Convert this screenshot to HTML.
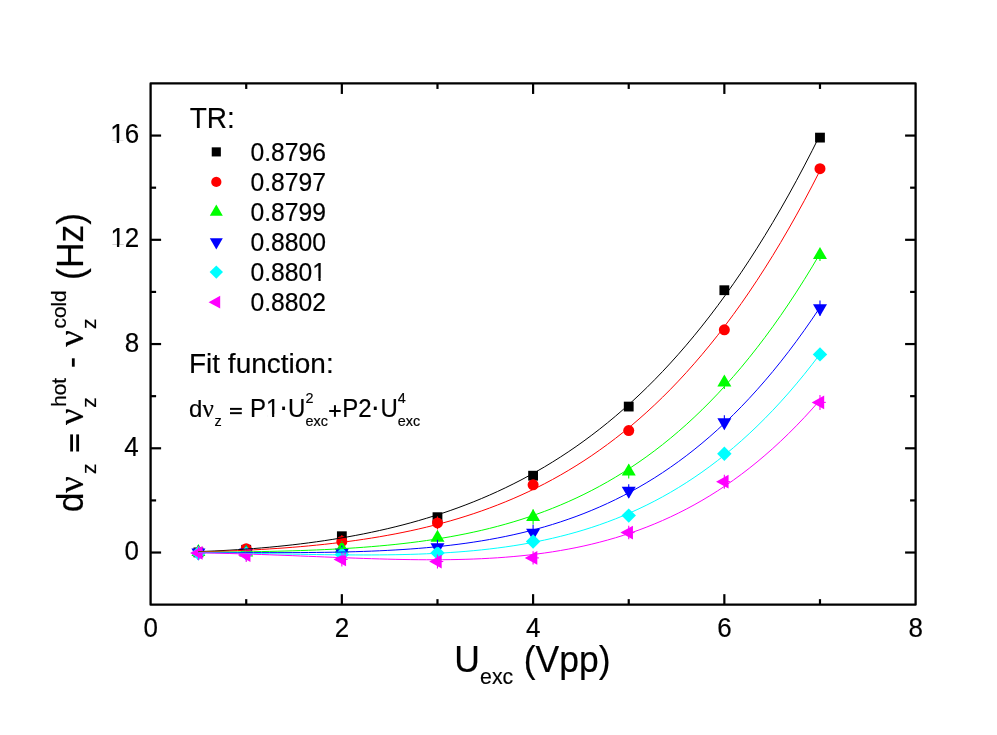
<!DOCTYPE html>
<html><head><meta charset="utf-8"><title>chart</title>
<style>
html,body{margin:0;padding:0;background:#fff;}
body{width:997px;height:735px;overflow:hidden;}
svg{display:block;will-change:transform;}
text{fill:#000;stroke:#000;stroke-width:0.18px;}
</style></head><body>
<svg width="997" height="735" viewBox="0 0 997 735">
<rect width="997" height="735" fill="#fff"/>

<g id="markers">
<rect x="193.51" y="547.50" width="9.80" height="9.80" fill="#000000"/>
<rect x="241.32" y="544.89" width="9.80" height="9.80" fill="#000000"/>
<rect x="336.95" y="531.33" width="9.80" height="9.80" fill="#000000"/>
<rect x="432.58" y="512.28" width="9.80" height="9.80" fill="#000000"/>
<rect x="528.20" y="470.80" width="9.80" height="9.80" fill="#000000"/>
<rect x="623.83" y="401.67" width="9.80" height="9.80" fill="#000000"/>
<rect x="719.45" y="285.32" width="9.80" height="9.80" fill="#000000"/>
<rect x="815.08" y="132.71" width="9.80" height="9.80" fill="#000000"/>
<circle cx="198.41" cy="552.40" r="5.50" fill="#ff0000"/>
<circle cx="246.22" cy="548.75" r="5.50" fill="#ff0000"/>
<line x1="341.85" y1="534.94" x2="341.85" y2="547.94" stroke="#ff0000" stroke-width="1.1"/>
<circle cx="341.85" cy="541.44" r="5.50" fill="#ff0000"/>
<line x1="437.48" y1="516.42" x2="437.48" y2="529.42" stroke="#ff0000" stroke-width="1.1"/>
<circle cx="437.48" cy="522.92" r="5.50" fill="#ff0000"/>
<circle cx="533.10" cy="484.83" r="5.50" fill="#ff0000"/>
<circle cx="628.73" cy="430.57" r="5.50" fill="#ff0000"/>
<circle cx="724.35" cy="329.87" r="5.50" fill="#ff0000"/>
<circle cx="819.98" cy="168.65" r="5.50" fill="#ff0000"/>
<line x1="198.41" y1="544.88" x2="198.41" y2="558.88" stroke="#00ff00" stroke-width="1.1"/>
<polygon points="198.41,543.88 191.41,555.88 205.41,555.88" fill="#00ff00"/>
<line x1="246.22" y1="545.40" x2="246.22" y2="559.40" stroke="#00ff00" stroke-width="1.1"/>
<polygon points="246.22,544.40 239.22,556.40 253.22,556.40" fill="#00ff00"/>
<line x1="341.85" y1="541.49" x2="341.85" y2="555.49" stroke="#00ff00" stroke-width="1.1"/>
<polygon points="341.85,540.49 334.85,552.49 348.85,552.49" fill="#00ff00"/>
<line x1="437.48" y1="530.79" x2="437.48" y2="544.79" stroke="#00ff00" stroke-width="1.1"/>
<polygon points="437.48,529.79 430.48,541.79 444.48,541.79" fill="#00ff00"/>
<line x1="533.10" y1="509.42" x2="533.10" y2="524.42" stroke="#00ff00" stroke-width="1.1"/>
<polygon points="533.10,508.92 526.10,520.92 540.10,520.92" fill="#00ff00"/>
<line x1="628.73" y1="464.53" x2="628.73" y2="478.53" stroke="#00ff00" stroke-width="1.1"/>
<polygon points="628.73,463.53 621.73,475.53 635.73,475.53" fill="#00ff00"/>
<line x1="724.35" y1="376.07" x2="724.35" y2="389.07" stroke="#00ff00" stroke-width="1.1"/>
<polygon points="724.35,374.57 717.35,386.57 731.35,386.57" fill="#00ff00"/>
<line x1="819.98" y1="249.00" x2="819.98" y2="261.00" stroke="#00ff00" stroke-width="1.1"/>
<polygon points="819.98,247.00 812.98,259.00 826.98,259.00" fill="#00ff00"/>
<line x1="198.41" y1="545.40" x2="198.41" y2="559.40" stroke="#0000ff" stroke-width="1.1"/>
<polygon points="198.41,560.40 191.41,548.40 205.41,548.40" fill="#0000ff"/>
<line x1="246.22" y1="545.40" x2="246.22" y2="559.40" stroke="#0000ff" stroke-width="1.1"/>
<polygon points="246.22,560.40 239.22,548.40 253.22,548.40" fill="#0000ff"/>
<line x1="341.85" y1="545.40" x2="341.85" y2="559.40" stroke="#0000ff" stroke-width="1.1"/>
<polygon points="341.85,560.40 334.85,548.40 348.85,548.40" fill="#0000ff"/>
<line x1="437.48" y1="539.68" x2="437.48" y2="554.68" stroke="#0000ff" stroke-width="1.1"/>
<polygon points="437.48,555.18 430.48,543.18 444.48,543.18" fill="#0000ff"/>
<line x1="533.10" y1="524.83" x2="533.10" y2="540.83" stroke="#0000ff" stroke-width="1.1"/>
<polygon points="533.10,540.83 526.10,528.83 540.10,528.83" fill="#0000ff"/>
<line x1="628.73" y1="484.13" x2="628.73" y2="497.53" stroke="#0000ff" stroke-width="1.1"/>
<polygon points="628.73,498.83 621.73,486.83 635.73,486.83" fill="#0000ff"/>
<line x1="724.35" y1="415.22" x2="724.35" y2="429.22" stroke="#0000ff" stroke-width="1.1"/>
<polygon points="724.35,430.22 717.35,418.22 731.35,418.22" fill="#0000ff"/>
<line x1="819.98" y1="300.62" x2="819.98" y2="315.82" stroke="#0000ff" stroke-width="1.1"/>
<polygon points="819.98,316.22 812.98,304.22 826.98,304.22" fill="#0000ff"/>
<polygon points="198.41,545.98 205.61,553.18 198.41,560.38 191.21,553.18" fill="#00ffff"/>
<polygon points="246.22,546.24 253.42,553.44 246.22,560.64 239.03,553.44" fill="#00ffff"/>
<polygon points="341.85,547.29 349.05,554.49 341.85,561.69 334.65,554.49" fill="#00ffff"/>
<polygon points="437.48,545.72 444.68,552.92 437.48,560.12 430.28,552.92" fill="#00ffff"/>
<polygon points="533.10,534.24 540.30,541.44 533.10,548.64 525.90,541.44" fill="#00ffff"/>
<polygon points="628.73,508.42 635.93,515.62 628.73,522.82 621.52,515.62" fill="#00ffff"/>
<polygon points="724.35,446.59 731.55,453.79 724.35,460.99 717.15,453.79" fill="#00ffff"/>
<polygon points="819.98,347.20 827.18,354.40 819.98,361.60 812.77,354.40" fill="#00ffff"/>
<line x1="198.41" y1="545.92" x2="198.41" y2="559.92" stroke="#ff00ff" stroke-width="1.1"/>
<line x1="192.61" y1="552.92" x2="204.21" y2="552.92" stroke="#ff00ff" stroke-width="1.1"/>
<polygon points="190.11,552.92 202.61,546.02 202.61,559.82" fill="#ff00ff"/>
<line x1="246.22" y1="548.01" x2="246.22" y2="562.01" stroke="#ff00ff" stroke-width="1.1"/>
<line x1="240.42" y1="555.01" x2="252.03" y2="555.01" stroke="#ff00ff" stroke-width="1.1"/>
<polygon points="237.92,555.01 250.42,548.11 250.42,561.91" fill="#ff00ff"/>
<line x1="341.85" y1="552.44" x2="341.85" y2="566.44" stroke="#ff00ff" stroke-width="1.1"/>
<line x1="336.05" y1="559.44" x2="347.65" y2="559.44" stroke="#ff00ff" stroke-width="1.1"/>
<polygon points="333.55,559.44 346.05,552.54 346.05,566.34" fill="#ff00ff"/>
<line x1="437.48" y1="554.53" x2="437.48" y2="568.53" stroke="#ff00ff" stroke-width="1.1"/>
<line x1="431.68" y1="561.53" x2="443.28" y2="561.53" stroke="#ff00ff" stroke-width="1.1"/>
<polygon points="429.18,561.53 441.68,554.63 441.68,568.43" fill="#ff00ff"/>
<line x1="533.10" y1="551.18" x2="533.10" y2="564.58" stroke="#ff00ff" stroke-width="1.1"/>
<line x1="527.30" y1="557.88" x2="538.90" y2="557.88" stroke="#ff00ff" stroke-width="1.1"/>
<polygon points="524.80,557.88 537.30,550.98 537.30,564.78" fill="#ff00ff"/>
<line x1="628.73" y1="525.77" x2="628.73" y2="539.37" stroke="#ff00ff" stroke-width="1.1"/>
<line x1="622.93" y1="532.57" x2="634.52" y2="532.57" stroke="#ff00ff" stroke-width="1.1"/>
<polygon points="620.43,532.57 632.93,525.67 632.93,539.47" fill="#ff00ff"/>
<line x1="724.35" y1="474.70" x2="724.35" y2="488.70" stroke="#ff00ff" stroke-width="1.1"/>
<line x1="718.55" y1="481.70" x2="730.15" y2="481.70" stroke="#ff00ff" stroke-width="1.1"/>
<polygon points="716.05,481.70 728.55,474.80 728.55,488.60" fill="#ff00ff"/>
<line x1="819.98" y1="394.90" x2="819.98" y2="409.90" stroke="#ff00ff" stroke-width="1.1"/>
<line x1="814.18" y1="402.40" x2="825.77" y2="402.40" stroke="#ff00ff" stroke-width="1.1"/>
<polygon points="811.68,402.40 824.18,395.50 824.18,409.30" fill="#ff00ff"/>
</g>
<g id="fits" fill="none" stroke-width="1.0">
<polyline points="198.41,551.59 206.28,551.30 214.15,550.97 222.02,550.58 229.88,550.15 237.75,549.67 245.62,549.14 253.49,548.55 261.36,547.92 269.22,547.22 277.09,546.47 284.96,545.66 292.83,544.80 300.69,543.86 308.56,542.87 316.43,541.80 324.30,540.67 332.17,539.46 340.03,538.18 347.90,536.82 355.77,535.38 363.64,533.86 371.51,532.24 379.37,530.54 387.24,528.75 395.11,526.85 402.98,524.86 410.85,522.76 418.71,520.55 426.58,518.23 434.45,515.80 442.32,513.24 450.18,510.56 458.05,507.74 465.92,504.80 473.79,501.71 481.66,498.48 489.52,495.10 497.39,491.57 505.26,487.87 513.13,484.01 521.00,479.99 528.86,475.78 536.73,471.40 544.60,466.83 552.47,462.06 560.33,457.10 568.20,451.93 576.07,446.55 583.94,440.95 591.81,435.12 599.67,429.07 607.54,422.78 615.41,416.24 623.28,409.45 631.15,402.40 639.01,395.09 646.88,387.50 654.75,379.63 662.62,371.48 670.49,363.02 678.35,354.27 686.22,345.20 694.09,335.81 701.96,326.09 709.82,316.04 717.69,305.64 725.56,294.89 733.43,283.77 741.30,272.29 749.16,260.42 757.03,248.17 764.90,235.51 772.77,222.45 780.64,208.98 788.50,195.08 796.37,180.74 804.24,165.95 812.11,150.71 819.98,135.01" stroke="#000000"/>
<polyline points="198.41,551.88 206.28,551.69 214.15,551.47 222.02,551.21 229.88,550.93 237.75,550.61 245.62,550.25 253.49,549.86 261.36,549.43 269.22,548.95 277.09,548.44 284.96,547.88 292.83,547.27 300.69,546.61 308.56,545.91 316.43,545.14 324.30,544.33 332.17,543.45 340.03,542.51 347.90,541.51 355.77,540.44 363.64,539.29 371.51,538.07 379.37,536.77 387.24,535.39 395.11,533.93 402.98,532.37 410.85,530.72 418.71,528.97 426.58,527.12 434.45,525.16 442.32,523.09 450.18,520.91 458.05,518.60 465.92,516.16 473.79,513.60 481.66,510.90 489.52,508.06 497.39,505.06 505.26,501.92 513.13,498.62 521.00,495.15 528.86,491.52 536.73,487.70 544.60,483.71 552.47,479.52 560.33,475.14 568.20,470.56 576.07,465.76 583.94,460.75 591.81,455.52 599.67,450.06 607.54,444.36 615.41,438.42 623.28,432.22 631.15,425.76 639.01,419.04 646.88,412.04 654.75,404.75 662.62,397.18 670.49,389.30 678.35,381.11 686.22,372.61 694.09,363.78 701.96,354.62 709.82,345.11 717.69,335.25 725.56,325.03 733.43,314.43 741.30,303.46 749.16,292.09 757.03,280.33 764.90,268.15 772.77,255.55 780.64,242.53 788.50,229.06 796.37,215.14 804.24,200.77 812.11,185.92 819.98,170.58" stroke="#ff0000"/>
<polyline points="198.41,552.28 206.28,552.23 214.15,552.17 222.02,552.10 229.88,552.02 237.75,551.93 245.62,551.83 253.49,551.71 261.36,551.57 269.22,551.41 277.09,551.23 284.96,551.03 292.83,550.80 300.69,550.55 308.56,550.27 316.43,549.96 324.30,549.61 332.17,549.22 340.03,548.80 347.90,548.33 355.77,547.82 363.64,547.25 371.51,546.64 379.37,545.96 387.24,545.23 395.11,544.44 402.98,543.57 410.85,542.64 418.71,541.63 426.58,540.54 434.45,539.36 442.32,538.10 450.18,536.75 458.05,535.29 465.92,533.74 473.79,532.07 481.66,530.30 489.52,528.40 497.39,526.38 505.26,524.23 513.13,521.95 521.00,519.53 528.86,516.96 536.73,514.23 544.60,511.35 552.47,508.31 560.33,505.09 568.20,501.70 576.07,498.12 583.94,494.35 591.81,490.38 599.67,486.21 607.54,481.82 615.41,477.22 623.28,472.38 631.15,467.32 639.01,462.01 646.88,456.45 654.75,450.64 662.62,444.55 670.49,438.20 678.35,431.56 686.22,424.63 694.09,417.40 701.96,409.87 709.82,402.01 717.69,393.83 725.56,385.32 733.43,376.46 741.30,367.25 749.16,357.68 757.03,347.74 764.90,337.41 772.77,326.69 780.64,315.57 788.50,304.04 796.37,292.09 804.24,279.70 812.11,266.88 819.98,253.59" stroke="#00ff00"/>
<polyline points="198.41,552.48 206.28,552.50 214.15,552.53 222.02,552.56 229.88,552.58 237.75,552.61 245.62,552.63 253.49,552.65 261.36,552.66 269.22,552.67 277.09,552.67 284.96,552.65 292.83,552.63 300.69,552.58 308.56,552.52 316.43,552.45 324.30,552.35 332.17,552.22 340.03,552.07 347.90,551.88 355.77,551.67 363.64,551.42 371.51,551.13 379.37,550.79 387.24,550.41 395.11,549.98 402.98,549.50 410.85,548.96 418.71,548.36 426.58,547.69 434.45,546.96 442.32,546.15 450.18,545.26 458.05,544.29 465.92,543.24 473.79,542.09 481.66,540.85 489.52,539.50 497.39,538.05 505.26,536.49 513.13,534.81 521.00,533.00 528.86,531.07 536.73,529.00 544.60,526.80 552.47,524.45 560.33,521.94 568.20,519.28 576.07,516.46 583.94,513.46 591.81,510.28 599.67,506.93 607.54,503.38 615.41,499.63 623.28,495.68 631.15,491.52 639.01,487.14 646.88,482.53 654.75,477.69 662.62,472.60 670.49,467.27 678.35,461.68 686.22,455.82 694.09,449.69 701.96,443.28 709.82,436.58 717.69,429.58 725.56,422.28 733.43,414.66 741.30,406.71 749.16,398.43 757.03,389.81 764.90,380.84 772.77,371.50 780.64,361.80 788.50,351.71 796.37,341.24 804.24,330.37 812.11,319.08 819.98,307.38" stroke="#0000ff"/>
<polyline points="198.41,552.65 206.28,552.74 214.15,552.83 222.02,552.94 229.88,553.06 237.75,553.18 245.62,553.32 253.49,553.45 261.36,553.60 269.22,553.74 277.09,553.89 284.96,554.03 292.83,554.17 300.69,554.31 308.56,554.44 316.43,554.56 324.30,554.67 332.17,554.77 340.03,554.85 347.90,554.91 355.77,554.95 363.64,554.96 371.51,554.95 379.37,554.90 387.24,554.82 395.11,554.71 402.98,554.55 410.85,554.35 418.71,554.10 426.58,553.79 434.45,553.43 442.32,553.02 450.18,552.53 458.05,551.98 465.92,551.35 473.79,550.65 481.66,549.87 489.52,548.99 497.39,548.03 505.26,546.97 513.13,545.80 521.00,544.54 528.86,543.15 536.73,541.65 544.60,540.03 552.47,538.28 560.33,536.39 568.20,534.36 576.07,532.19 583.94,529.86 591.81,527.38 599.67,524.73 607.54,521.90 615.41,518.90 623.28,515.72 631.15,512.34 639.01,508.76 646.88,504.98 654.75,500.98 662.62,496.77 670.49,492.33 678.35,487.65 686.22,482.73 694.09,477.56 701.96,472.13 709.82,466.44 717.69,460.47 725.56,454.22 733.43,447.68 741.30,440.84 749.16,433.70 757.03,426.24 764.90,418.45 772.77,410.33 780.64,401.87 788.50,393.05 796.37,383.88 804.24,374.33 812.11,364.41 819.98,354.10" stroke="#00ffff"/>
<polyline points="198.41,552.82 206.28,552.97 214.15,553.13 222.02,553.32 229.88,553.52 237.75,553.75 245.62,553.98 253.49,554.24 261.36,554.51 269.22,554.79 277.09,555.08 284.96,555.38 292.83,555.68 300.69,556.00 308.56,556.31 316.43,556.63 324.30,556.95 332.17,557.26 340.03,557.57 347.90,557.86 355.77,558.15 363.64,558.43 371.51,558.68 379.37,558.92 387.24,559.14 395.11,559.33 402.98,559.49 410.85,559.62 418.71,559.71 426.58,559.76 434.45,559.77 442.32,559.73 450.18,559.64 458.05,559.50 465.92,559.29 473.79,559.03 481.66,558.69 489.52,558.28 497.39,557.80 505.26,557.23 513.13,556.57 521.00,555.83 528.86,554.99 536.73,554.04 544.60,552.99 552.47,551.83 560.33,550.54 568.20,549.14 576.07,547.61 583.94,545.94 591.81,544.13 599.67,542.17 607.54,540.06 615.41,537.79 623.28,535.36 631.15,532.75 639.01,529.97 646.88,527.00 654.75,523.84 662.62,520.48 670.49,516.91 678.35,513.13 686.22,509.14 694.09,504.91 701.96,500.45 709.82,495.75 717.69,490.80 725.56,485.59 733.43,480.11 741.30,474.37 749.16,468.34 757.03,462.02 764.90,455.40 772.77,448.48 780.64,441.24 788.50,433.68 796.37,425.79 804.24,417.56 812.11,408.97 819.98,400.03" stroke="#ff00ff"/>
</g>
<g stroke="#000" stroke-width="2.3" fill="none" stroke-linejoin="round">
<rect x="150.60" y="83.45" width="765.00" height="521.20"/>
</g><g stroke="#000" stroke-width="2.2">
<line x1="246.22" y1="604.65" x2="246.22" y2="599.15"/>
<line x1="246.22" y1="83.45" x2="246.22" y2="88.95"/>
<line x1="341.85" y1="604.65" x2="341.85" y2="594.15"/>
<line x1="341.85" y1="83.45" x2="341.85" y2="93.95"/>
<line x1="437.48" y1="604.65" x2="437.48" y2="599.15"/>
<line x1="437.48" y1="83.45" x2="437.48" y2="88.95"/>
<line x1="533.10" y1="604.65" x2="533.10" y2="594.15"/>
<line x1="533.10" y1="83.45" x2="533.10" y2="93.95"/>
<line x1="628.73" y1="604.65" x2="628.73" y2="599.15"/>
<line x1="628.73" y1="83.45" x2="628.73" y2="88.95"/>
<line x1="724.35" y1="604.65" x2="724.35" y2="594.15"/>
<line x1="724.35" y1="83.45" x2="724.35" y2="93.95"/>
<line x1="819.98" y1="604.65" x2="819.98" y2="599.15"/>
<line x1="819.98" y1="83.45" x2="819.98" y2="88.95"/>
<line x1="150.60" y1="552.53" x2="161.10" y2="552.53"/>
<line x1="915.60" y1="552.53" x2="905.10" y2="552.53"/>
<line x1="150.60" y1="500.41" x2="156.10" y2="500.41"/>
<line x1="915.60" y1="500.41" x2="910.10" y2="500.41"/>
<line x1="150.60" y1="448.29" x2="161.10" y2="448.29"/>
<line x1="915.60" y1="448.29" x2="905.10" y2="448.29"/>
<line x1="150.60" y1="396.17" x2="156.10" y2="396.17"/>
<line x1="915.60" y1="396.17" x2="910.10" y2="396.17"/>
<line x1="150.60" y1="344.05" x2="161.10" y2="344.05"/>
<line x1="915.60" y1="344.05" x2="905.10" y2="344.05"/>
<line x1="150.60" y1="291.93" x2="156.10" y2="291.93"/>
<line x1="915.60" y1="291.93" x2="910.10" y2="291.93"/>
<line x1="150.60" y1="239.81" x2="161.10" y2="239.81"/>
<line x1="915.60" y1="239.81" x2="905.10" y2="239.81"/>
<line x1="150.60" y1="187.69" x2="156.10" y2="187.69"/>
<line x1="915.60" y1="187.69" x2="910.10" y2="187.69"/>
<line x1="150.60" y1="135.57" x2="161.10" y2="135.57"/>
<line x1="915.60" y1="135.57" x2="905.10" y2="135.57"/>
</g>
<text transform="translate(150.60,636.70) scale(1,1.08)" font-size="26" font-family='"Liberation Sans",sans-serif' text-anchor="middle">0</text>
<text transform="translate(341.85,636.70) scale(1,1.08)" font-size="26" font-family='"Liberation Sans",sans-serif' text-anchor="middle">2</text>
<text transform="translate(533.10,636.70) scale(1,1.08)" font-size="26" font-family='"Liberation Sans",sans-serif' text-anchor="middle">4</text>
<text transform="translate(724.35,636.70) scale(1,1.08)" font-size="26" font-family='"Liberation Sans",sans-serif' text-anchor="middle">6</text>
<text transform="translate(915.60,636.70) scale(1,1.08)" font-size="26" font-family='"Liberation Sans",sans-serif' text-anchor="middle">8</text>
<text transform="translate(139.02,560.13) scale(1,1.08)" font-size="26" font-family='"Liberation Sans",sans-serif' text-anchor="end">0</text>
<text transform="translate(138.76,455.89) scale(1,1.08)" font-size="26" font-family='"Liberation Sans",sans-serif' text-anchor="end">4</text>
<text transform="translate(139.13,351.65) scale(1,1.08)" font-size="26" font-family='"Liberation Sans",sans-serif' text-anchor="end">8</text>
<text transform="translate(139.31,247.41) scale(1,1.08)" font-size="26" font-family='"Liberation Sans",sans-serif' text-anchor="end">12</text><rect x="111.53" y="244.71" width="5.40" height="3.50" fill="#fff"/><rect x="119.22" y="244.71" width="5.26" height="3.50" fill="#fff"/>
<text transform="translate(139.14,143.17) scale(1,1.08)" font-size="26" font-family='"Liberation Sans",sans-serif' text-anchor="end">16</text><rect x="111.37" y="140.47" width="5.40" height="3.50" fill="#fff"/><rect x="119.06" y="140.47" width="5.26" height="3.50" fill="#fff"/>
<text transform="translate(189.67,128.10) scale(1,1.04)" font-size="28" font-family='"Liberation Sans",sans-serif' text-anchor="start">TR:</text>
<rect x="211.74" y="147.34" width="9.11" height="9.11" fill="#000000"/>
<text transform="translate(250.44,160.60) scale(1,1.04)" font-size="24.7" font-family='"Liberation Sans",sans-serif' text-anchor="start">0.8796</text>
<circle cx="216.30" cy="181.95" r="5.12" fill="#ff0000"/>
<text transform="translate(250.44,190.65) scale(1,1.04)" font-size="24.7" font-family='"Liberation Sans",sans-serif' text-anchor="start">0.8797</text>
<polygon points="216.30,204.56 209.79,215.72 222.81,215.72" fill="#00ff00"/>
<text transform="translate(250.44,220.70) scale(1,1.04)" font-size="24.7" font-family='"Liberation Sans",sans-serif' text-anchor="start">0.8799</text>
<polygon points="216.30,249.49 209.79,238.33 222.81,238.33" fill="#0000ff"/>
<text transform="translate(250.44,250.75) scale(1,1.04)" font-size="24.7" font-family='"Liberation Sans",sans-serif' text-anchor="start">0.8800</text>
<polygon points="216.30,265.40 223.00,272.10 216.30,278.80 209.60,272.10" fill="#00ffff"/>
<text transform="translate(250.44,280.80) scale(1,1.04)" font-size="24.7" font-family='"Liberation Sans",sans-serif' text-anchor="start">0.8801</text><rect x="313.33" y="278.28" width="5.13" height="3.32" fill="#fff"/><rect x="320.64" y="278.28" width="4.99" height="3.32" fill="#fff"/>
<polygon points="208.58,302.15 220.21,295.73 220.21,308.57" fill="#ff00ff"/>
<text transform="translate(250.44,310.85) scale(1,1.04)" font-size="24.7" font-family='"Liberation Sans",sans-serif' text-anchor="start">0.8802</text>
<text transform="translate(189.00,373.30) scale(1,1.015)" font-size="28" font-family='"Liberation Sans",sans-serif' text-anchor="start">Fit function:</text>
<text transform="translate(188.99,416.70) scale(1,1.03)" font-size="24" font-family='"Liberation Sans",sans-serif' text-anchor="start">d</text>
<text transform="translate(202.44,416.90) scale(1,1.0)" font-size="25" font-family='"Liberation Serif",serif' text-anchor="start">ν</text>
<text transform="translate(214.62,425.70) scale(1,1.0)" font-size="14.4" font-family='"Liberation Sans",sans-serif' text-anchor="start">z</text>
<rect x="230.0" y="407.9" width="11.8" height="1.95"/><rect x="230.0" y="412.2" width="11.8" height="1.95"/>
<text transform="translate(250.03,416.90) scale(1,1.04)" font-size="24" font-family='"Liberation Sans",sans-serif' text-anchor="start">P1</text><rect x="267.09" y="414.44" width="4.98" height="3.26" fill="#fff"/><rect x="274.20" y="414.44" width="4.85" height="3.26" fill="#fff"/>
<text transform="translate(278.66,415.90) scale(1,1.0)" font-size="29" font-family='"Liberation Sans",sans-serif' text-anchor="start">·</text>
<text transform="translate(287.95,416.90) scale(1,1.04)" font-size="24" font-family='"Liberation Sans",sans-serif' text-anchor="start">U</text>
<text transform="translate(305.58,402.70) scale(1,1.04)" font-size="14.4" font-family='"Liberation Sans",sans-serif' text-anchor="start">2</text>
<text transform="translate(305.59,425.70) scale(1,1.0)" font-size="14.4" font-family='"Liberation Sans",sans-serif' text-anchor="start">exc</text>
<rect x="329.2" y="410.0" width="11.5" height="2.0"/><rect x="333.95" y="405.2" width="2.0" height="11.6"/>
<text transform="translate(342.23,416.90) scale(1,1.04)" font-size="24" font-family='"Liberation Sans",sans-serif' text-anchor="start">P2</text>
<text transform="translate(370.61,415.95) scale(1,1.0)" font-size="29" font-family='"Liberation Sans",sans-serif' text-anchor="start">·</text>
<text transform="translate(380.45,416.90) scale(1,1.04)" font-size="24" font-family='"Liberation Sans",sans-serif' text-anchor="start">U</text>
<text transform="translate(397.87,402.70) scale(1,1.04)" font-size="14.4" font-family='"Liberation Sans",sans-serif' text-anchor="start">4</text>
<text transform="translate(397.79,425.70) scale(1,1.0)" font-size="14.4" font-family='"Liberation Sans",sans-serif' text-anchor="start">exc</text>
<text transform="translate(454.36,672.10) scale(1,1.04)" font-size="35.5" font-family='"Liberation Sans",sans-serif' text-anchor="start">U</text>
<text transform="translate(480.10,684.20) scale(1,1.0)" font-size="21.3" font-family='"Liberation Sans",sans-serif' text-anchor="start">exc</text>
<text transform="translate(523.70,672.10) scale(1,1.04)" font-size="35.5" font-family='"Liberation Sans",sans-serif' text-anchor="start">(Vpp)</text>
<text transform="translate(83.20,512.19) rotate(-90) scale(1,1.04)" font-size="35.5" font-family='"Liberation Sans",sans-serif'>d</text>
<text transform="translate(83.20,492.79) rotate(-90) scale(1,0.96)" font-size="36.8" font-family='"Liberation Serif",serif'>ν</text>
<text transform="translate(95.70,474.04) rotate(-90) scale(1,1.0)" font-size="20.8" font-family='"Liberation Sans",sans-serif'>z</text>
<rect x="70.2" y="434.4" width="2.8" height="17.1"/><rect x="76.25" y="434.4" width="2.8" height="17.1"/>
<text transform="translate(83.20,425.09) rotate(-90) scale(1,0.96)" font-size="36.8" font-family='"Liberation Serif",serif'>ν</text>
<text transform="translate(95.70,407.84) rotate(-90) scale(1,1.0)" font-size="20.8" font-family='"Liberation Sans",sans-serif'>z</text>
<text transform="translate(66.30,406.84) rotate(-90) scale(1,1.0)" font-size="20.8" font-family='"Liberation Sans",sans-serif'>hot</text>
<rect x="71.9" y="358.3" width="2.8" height="8.4"/>
<text transform="translate(83.20,346.79) rotate(-90) scale(1,0.96)" font-size="36.8" font-family='"Liberation Serif",serif'>ν</text>
<text transform="translate(95.70,328.94) rotate(-90) scale(1,1.0)" font-size="20.8" font-family='"Liberation Sans",sans-serif'>z</text>
<text transform="translate(66.30,328.48) rotate(-90) scale(1,1.0)" font-size="20.8" font-family='"Liberation Sans",sans-serif'>cold</text>
<text transform="translate(83.20,279.90) rotate(-90) scale(1,1.04)" font-size="35.5" font-family='"Liberation Sans",sans-serif'>(Hz)</text>
</svg></body></html>
